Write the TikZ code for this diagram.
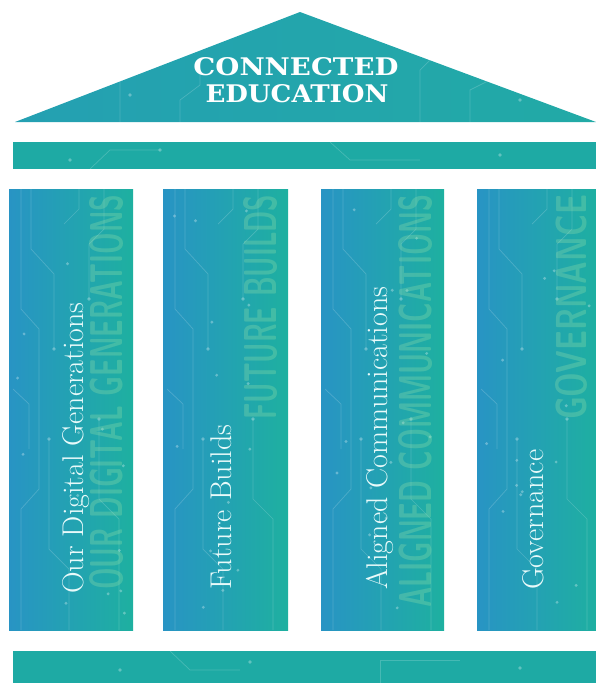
\documentclass[tikz,border=0pt]{standalone}
\usepackage{fontspec}
\newfontfamily\slab{DejaVu Serif}
\definecolor{cblue}{RGB}{40,148,196}
\definecolor{cteal}{RGB}{30,176,160}
\definecolor{roofl}{RGB}{36,160,178}
\definecolor{rooft}{RGB}{34,170,166}
\definecolor{bandt}{RGB}{30,170,164}
\definecolor{ghost}{RGB}{150,225,170}
\definecolor{labelc}{RGB}{232,250,250}
\newcommand\circuitpat{%
  \draw[trace] (12,0) -- (12,120) -- (30,140) -- (30,300) -- (12,320) -- (12,441);
  \draw[trace] (22,0) -- (22,60) -- (45,85) -- (45,160);
  \fill[dotc] (45,160) circle[radius=1.8pt];
  \draw[trace] (60,441) -- (60,380) -- (40,360) -- (40,250);
  \fill[dotc] (40,250) circle[radius=1.8pt];
  \draw[trace] (95,0) -- (95,40) -- (80,55) -- (80,110);
  \fill[dotc] (80,110) circle[radius=1.8pt];
  \draw[trace] (110,441) -- (110,330) -- (90,310) -- (90,230);
  \fill[dotc] (90,230) circle[radius=1.8pt];
  \draw[trace] (4,200) -- (20,215) -- (20,260);
  \draw[trace] (70,0) -- (70,20) -- (55,35);
}
\begin{document}
\begin{tikzpicture}[x=1pt,y=-1pt,
  colbox/.style={left color=cblue, right color=cteal, draw=none},
  trace/.style={draw=white, opacity=0.18, line width=0.7pt},
  dotc/.style={fill=white, opacity=0.3},
  pillarlabel/.style={rotate=90, anchor=base west, inner sep=0, text=labelc,
    font=\fontsize{30}{36}\selectfont},
  ghosttext/.style={rotate=90, anchor=south west, inner sep=0, text=ghost,
    opacity=0.3, font=\sffamily\bfseries},
  rooftext/.style={inner sep=0, text=white}
]
\useasboundingbox (0,0) rectangle (596,683);
% roof
\path[left color=roofl, right color=rooft] (15,122) -- (300,12) -- (596,122) -- cycle;
\begin{scope}
  \clip (15,122) -- (300,12) -- (596,122) -- cycle;
  \draw[trace] (120,122) -- (120,80) -- (140,60);
  \draw[trace] (420,122) -- (420,70) -- (440,50);
  \draw[trace] (470,122) -- (470,90) -- (500,75);
  \draw[trace] (180,122) -- (180,100) -- (200,85) -- (200,60);
  \fill[dotc] (140,60) circle[radius=1.8pt];
  \fill[dotc] (440,50) circle[radius=1.8pt];
  \fill[dotc] (130,95) circle[radius=1.8pt];
  \fill[dotc] (520,100) circle[radius=1.8pt];
  \fill[dotc] (380,40) circle[radius=1.8pt];
\end{scope}
% architrave and base
\path[fill=bandt] (13,142) rectangle (596,169);
\path[fill=bandt] (13,651) rectangle (596,683);
\begin{scope}
  \clip (13,142) rectangle (596,169);
  \draw[trace] (90,169) -- (110,150) -- (160,150);
  \draw[trace] (330,142) -- (350,160) -- (420,160);
  \fill[dotc] (70,160) circle[radius=1.8pt];
  \fill[dotc] (160,150) circle[radius=1.8pt];
  \fill[dotc] (500,155) circle[radius=1.8pt];
\end{scope}
\begin{scope}
  \clip (13,651) rectangle (596,683);
  \draw[trace] (380,683) -- (380,660) -- (460,660);
  \draw[trace] (170,651) -- (190,670) -- (240,670);
  \fill[dotc] (120,670) circle[radius=1.8pt];
  \fill[dotc] (250,662) circle[radius=1.8pt];
  \fill[dotc] (520,668) circle[radius=1.8pt];
\end{scope}
% columns
\path[colbox] (9,189) rectangle (133,630);
\path[colbox] (163,189) rectangle (288,630);
\path[colbox] (321,189) rectangle (444,630);
\path[colbox] (477,189) rectangle (600,630);
\foreach \ox/\sd in {9/3,163/5,321/8,477/11} {
  \begin{scope}[shift={(\ox,189)}]
    \clip (0,0) rectangle (124,441);
    \circuitpat
    \pgfmathsetseed{\sd}
    \foreach \i in {1,...,14} {
      \pgfmathsetmacro\rx{5+rnd*114}
      \pgfmathsetmacro\ry{5+rnd*431}
      \fill[dotc] (\rx,\ry) circle[radius=1.6pt];
    }
  \end{scope}
}
% ghost texts
\node[ghosttext] (g1) at (124,590) {\resizebox{395pt}{33pt}{OUR DIGITAL GENERATIONS}};
\node[ghosttext] (g2) at (278,420) {\resizebox{225pt}{33pt}{FUTURE BUILDS}};
\node[ghosttext] (g3) at (433,608) {\resizebox{413pt}{33pt}{ALIGNED COMMUNICATIONS}};
\node[ghosttext] (g4) at (588,420) {\resizebox{225pt}{31pt}{GOVERNANCE}};
% pillar labels
\node[pillarlabel] (l1) at (83,594) {Our Digital Generations};
\node[pillarlabel] (l2) at (231,590) {Future Builds};
\node[pillarlabel] (l3) at (387,590) {Aligned Communications};
\node[pillarlabel] (l4) at (543,590) {Governance};
% roof text
\node[rooftext] (t1) at (296,67) {\resizebox{205pt}{18pt}{\slab\bfseries CONNECTED}};
\node[rooftext] (t2) at (297,94) {\resizebox{183pt}{18pt}{\slab\bfseries EDUCATION}};
\end{tikzpicture}
\end{document}
